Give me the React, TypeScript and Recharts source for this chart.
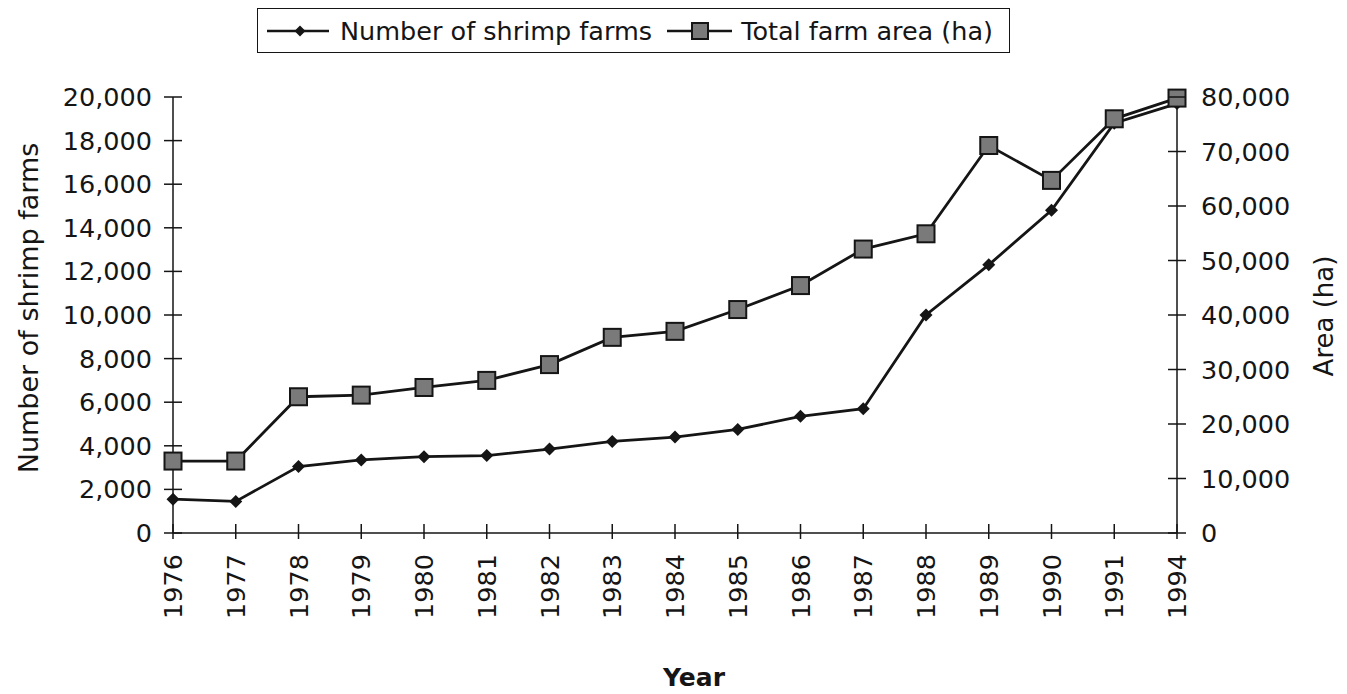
import React from "react";
import { LineChart, Line, XAxis, YAxis, Legend } from "recharts";

const years = ["1976", "1977", "1978", "1979", "1980", "1981", "1982", "1983", "1984", "1985", "1986", "1987", "1988", "1989", "1990", "1991", "1994"];
const farms = [1550, 1450, 3050, 3350, 3500, 3550, 3850, 4200, 4400, 4750, 5350, 5700, 10000, 12300, 14800, 18800, 19700];
const area = [13200, 13200, 25000, 25300, 26700, 28000, 30900, 35900, 37000, 41000, 45400, 52100, 54900, 71100, 64700, 76000, 79800];
const leftTicks = [0, 2000, 4000, 6000, 8000, 10000, 12000, 14000, 16000, 18000, 20000];
const rightTicks = [0, 10000, 20000, 30000, 40000, 50000, 60000, 70000, 80000];

const data = years.map((y, i) => ({ year: y, farms: farms[i], area: area[i] }));

const FONT = "'DejaVu Sans', Verdana, sans-serif";
const INK = "#151515";
const TICK_FS = 25.5;
const fmt = (v: number) => v.toLocaleString("en-US");

const LeftTick = (p: any) => (
  <g>
    <line x1={p.x - 9} x2={p.x + 9} y1={p.y} y2={p.y} stroke={INK} strokeWidth={1.5} />
    <text x={p.x - 21} y={p.y} textAnchor="end" dominantBaseline="central" fontFamily={FONT} fontSize={TICK_FS} fill={INK}>
      {fmt(p.payload.value)}
    </text>
  </g>
);

const RightTick = (p: any) => (
  <g>
    <line x1={p.x - 9} x2={p.x + 9} y1={p.y} y2={p.y} stroke={INK} strokeWidth={1.5} />
    <text x={p.x + 24} y={p.y} textAnchor="start" dominantBaseline="central" fontFamily={FONT} fontSize={TICK_FS} fill={INK}>
      {fmt(p.payload.value)}
    </text>
  </g>
);

const YearTick = (p: any) => (
  <g>
    <line x1={p.x} x2={p.x} y1={p.y - 9} y2={p.y + 6} stroke={INK} strokeWidth={1.5} />
    <text
      x={p.x}
      y={p.y + 21}
      transform={`rotate(-90, ${p.x}, ${p.y + 21})`}
      textAnchor="end"
      dominantBaseline="central"
      fontFamily={FONT}
      fontSize={TICK_FS}
      fill={INK}
    >
      {p.payload.value}
    </text>
  </g>
);

const Diamond = (p: any) => {
  const { cx, cy } = p;
  if (cx == null || cy == null) return <g />;
  return <polygon points={`${cx},${cy - 6.5} ${cx + 6.5},${cy} ${cx},${cy + 6.5} ${cx - 6.5},${cy}`} fill={INK} />;
};

const Square = (p: any) => {
  const { cx, cy } = p;
  if (cx == null || cy == null) return <g />;
  return <rect x={cx - 8.5} y={cy - 8.5} width={17} height={17} fill="#7a7a7a" stroke={INK} strokeWidth={2} />;
};

// legend box drawn by hand so it matches the boxed excel legend
const LegendBox = () => (
  <div
    style={{
      display: "flex",
      alignItems: "center",
      border: `1.5px solid ${INK}`,
      height: 45,
      width: 753,
      boxSizing: "border-box",
      fontFamily: FONT,
      fontSize: 25.5,
      color: INK,
      paddingLeft: 9,
      whiteSpace: "nowrap",
    }}
  >
    <svg width={62} height={20}>
      <line x1={0} x2={62} y1={10} y2={10} stroke={INK} strokeWidth={2.5} />
      <polygon points="33,4.5 38.5,10 33,15.5 27.5,10" fill={INK} />
    </svg>
    <span style={{ marginLeft: 11 }}>Number of shrimp farms</span>
    <svg width={65} height={22} style={{ marginLeft: 15 }}>
      <line x1={0} x2={65} y1={11} y2={11} stroke={INK} strokeWidth={2.5} />
      <rect x={25} y={3} width={16} height={16} fill="#7a7a7a" stroke={INK} strokeWidth={2} />
    </svg>
    <span style={{ marginLeft: 9 }}>Total farm area (ha)</span>
  </div>
);

export default function App() {
  return (
    <LineChart
      width={1339}
      height={686}
      data={data}
      margin={{ top: 44, right: 60, bottom: 41, left: 65 }}
    >
      <XAxis
        dataKey="year"
        height={120}
        tickSize={0}
        tickMargin={0}
        tickLine={false}
        interval={0}
        tick={<YearTick />}
        stroke={INK}
        strokeWidth={1.5}
        label={() => (
          <text x={686} y={678} textAnchor="middle" fontFamily={FONT} fontSize={25} fontWeight={600} fill={INK}>
            Year
          </text>
        )}
      />
      <YAxis
        yAxisId="left"
        domain={[0, 20000]}
        ticks={leftTicks}
        width={100}
        tickSize={0}
        tickMargin={0}
        tickLine={false}
        tick={<LeftTick />}
        stroke={INK}
        strokeWidth={1.5}
        label={() => (
          <text x={20} y={300} transform="rotate(-90, 20, 300)" textAnchor="middle" dominantBaseline="central" fontFamily={FONT} fontSize={27} fill={INK}>
            Number of shrimp farms
          </text>
        )}
      />
      <YAxis
        yAxisId="right"
        orientation="right"
        domain={[0, 80000]}
        ticks={rightTicks}
        width={110}
        tickSize={0}
        tickMargin={0}
        tickLine={false}
        tick={<RightTick />}
        stroke={INK}
        strokeWidth={1.5}
        label={() => (
          <text x={1316} y={308} transform="rotate(-90, 1316, 308)" textAnchor="middle" dominantBaseline="central" fontFamily={FONT} fontSize={26} fill={INK}>
            Area (ha)
          </text>
        )}
      />
      <Legend verticalAlign="top" content={<LegendBox />} wrapperStyle={{ top: 0, left: 249, width: 753 }} />
      <Line
        yAxisId="left"
        dataKey="farms"
        name="Number of shrimp farms"
        stroke={INK}
        strokeWidth={2.8}
        dot={<Diamond />}
        activeDot={false}
        isAnimationActive={false}
      />
      <Line
        yAxisId="right"
        dataKey="area"
        name="Total farm area (ha)"
        stroke={INK}
        strokeWidth={2.8}
        dot={<Square />}
        activeDot={false}
        isAnimationActive={false}
      />
    </LineChart>
  );
}
